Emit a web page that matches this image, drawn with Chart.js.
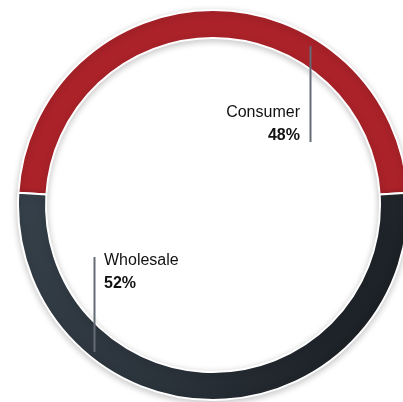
<!DOCTYPE html>
<html>
<head>
<meta charset="utf-8">
<script src="https://cdn.jsdelivr.net/npm/chart.js@4/dist/chart.umd.min.js"></script>
<style>
  html, body { margin: 0; padding: 0; background: #fff; overflow: hidden; }
  #wrap { position: absolute; left: -7px; top: -15px; width: 440px; height: 440px; }
</style>
</head>
<body>
<div id="wrap"><canvas id="split" width="440" height="440"></canvas></div>
<script>
// Revenue split by channel
const channels = ['Consumer', 'Wholesale'];
const shares = [48, 52];

// Label callouts: offsets from the centre, as fractions of the outer radius
const callouts = [
  { side: 'right', lineX: 0.497, lineTop: -0.815, lineBottom: -0.323, textX: -0.051, nameY: -0.451, valueY: -0.333 },
  { side: 'left',  lineX: -0.610, lineTop: 0.267, lineBottom: 0.754, textX: 0.051, nameY: 0.308, valueY: 0.426 }
];

const ringShadow = {
  id: 'ringShadow',
  beforeDatasetsDraw(chart) {
    const ctx = chart.ctx;
    ctx.save();
    ctx.shadowColor = 'rgba(0,0,0,0.22)';
    ctx.shadowBlur = 7;
    ctx.shadowOffsetY = 2;
  },
  afterDatasetsDraw(chart) {
    chart.ctx.restore();
  }
};

const callout = {
  id: 'callout',
  afterDraw(chart) {
    const arc = chart.getDatasetMeta(0).data[0];
    const cx = arc.x, cy = arc.y, r = arc.outerRadius;
    const ctx = chart.ctx;
    ctx.save();
    callouts.forEach((c, i) => {
      const lx = Math.round(cx + c.lineX * r) + 0.5;
      ctx.strokeStyle = '#646b75';
      ctx.lineWidth = 2;
      ctx.beginPath();
      ctx.moveTo(lx, cy + c.lineTop * r);
      ctx.lineTo(lx, cy + c.lineBottom * r);
      ctx.stroke();

      ctx.fillStyle = '#111';
      ctx.textAlign = c.side === 'right' ? 'right' : 'left';
      ctx.textBaseline = 'alphabetic';
      const tx = cx + (c.lineX + c.textX) * r;
      ctx.font = '16px "Liberation Sans", Arial, sans-serif';
      ctx.fillText(channels[i], tx, cy + c.nameY * r);
      ctx.font = 'bold 16px "Liberation Sans", Arial, sans-serif';
      ctx.fillText(shares[i] + '%', tx, cy + c.valueY * r);
    });
    ctx.restore();
  }
};

// Red for consumer, dark slate gradient for wholesale
function sliceFill(context) {
  if (context.dataIndex === 0) return '#ab2229';
  const chart = context.chart;
  const area = chart.chartArea;
  if (!area) return '#2b333b';
  const g = chart.ctx.createLinearGradient(area.left, area.top + area.height * 0.45, area.right, area.bottom);
  g.addColorStop(0, '#37424c');
  g.addColorStop(0.5, '#2a323a');
  g.addColorStop(1, '#121417');
  return g;
}

const total = shares.reduce((a, b) => a + b, 0);

new Chart(document.getElementById('split'), {
  type: 'doughnut',
  data: {
    labels: channels,
    datasets: [{
      data: shares,
      backgroundColor: sliceFill,
      borderColor: '#ffffff',
      borderWidth: 2
    }]
  },
  options: {
    responsive: false,
    animation: false,
    radius: 195,
    cutout: (167 / 195 * 100) + '%',
    rotation: -(shares[0] / total) * 180,
    layout: { padding: 0 },
    events: [],
    plugins: {
      legend: { display: false },
      tooltip: { enabled: false }
    }
  },
  plugins: [ringShadow, callout]
});
</script>
</body>
</html>
